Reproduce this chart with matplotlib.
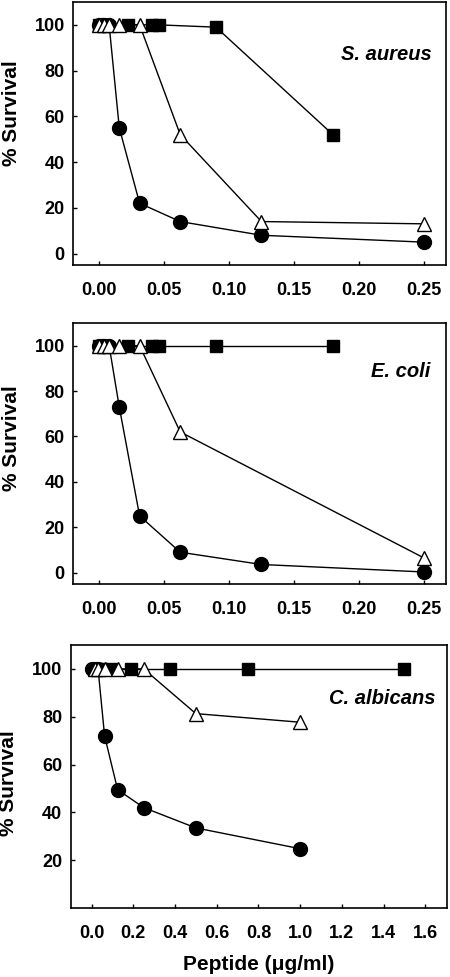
import numpy as np
import matplotlib
matplotlib.use('Agg')
import matplotlib.pyplot as plt

plt.rcParams['font.family'] = ['Liberation Sans', 'DejaVu Sans']
plt.rcParams['font.weight'] = 'bold'

# S. aureus
sa_circle_x = [0.0, 0.00195, 0.0039, 0.0078, 0.0156, 0.03125, 0.0625, 0.125, 0.25]
sa_circle_y = [100, 100, 100, 100, 55, 22, 14, 8, 5]
sa_tri_x = [0.0, 0.0039, 0.0078, 0.0156, 0.03125, 0.0625, 0.125, 0.25]
sa_tri_y = [100, 100, 100, 100, 100, 52, 14, 13]
sa_sq_x = [0.0, 0.0028, 0.0225, 0.041, 0.046, 0.09, 0.18]
sa_sq_y = [100, 100, 100, 100, 100, 99, 52]

# E. coli
ec_circle_x = [0.0, 0.00195, 0.0039, 0.0078, 0.0156, 0.03125, 0.0625, 0.125, 0.25]
ec_circle_y = [100, 100, 100, 100, 73, 25, 9, 3.6, 0.3]
ec_tri_x = [0.0, 0.0039, 0.0078, 0.0156, 0.03125, 0.0625, 0.25]
ec_tri_y = [100, 100, 100, 100, 100, 62, 6.5]
ec_sq_x = [0.0, 0.0028, 0.0225, 0.041, 0.046, 0.09, 0.18]
ec_sq_y = [100, 100, 100, 100, 100, 100, 100]

# C. albicans
ca_circle_x = [0.0, 0.0156, 0.03125, 0.0625, 0.125, 0.25, 0.5, 1.0]
ca_circle_y = [100, 100, 100, 72, 49.5, 42, 33.5, 24.8]
ca_tri_x = [0.0156, 0.03125, 0.0625, 0.125, 0.25, 0.5, 1.0]
ca_tri_y = [100, 100, 100, 100, 100, 81.3, 77.7]
ca_sq_x = [0.0234, 0.047, 0.094, 0.1875, 0.375, 0.75, 1.5]
ca_sq_y = [100, 100, 100, 100, 100, 100, 100]

panels = [
    dict(name='S. aureus', circ=(sa_circle_x, sa_circle_y), tri=(sa_tri_x, sa_tri_y),
         sq=(sa_sq_x, sa_sq_y), rect=[73/450, 1-265/977, 373/450, 263/977],
         xlim=(-0.02, 0.267), ylim=(-5, 110), xticks=np.arange(0, 0.26, 0.05), xfmt='{:.2f}',
         yticks=[0, 20, 40, 60, 80, 100], txt=(0.962, 0.80), ylab_y=0.578),
    dict(name='E. coli', circ=(ec_circle_x, ec_circle_y), tri=(ec_tri_x, ec_tri_y),
         sq=(ec_sq_x, ec_sq_y), rect=[73/450, 1-584/977, 373/450, 261/977],
         xlim=(-0.02, 0.267), ylim=(-5, 110), xticks=np.arange(0, 0.26, 0.05), xfmt='{:.2f}',
         yticks=[0, 20, 40, 60, 80, 100], txt=(0.957, 0.813), ylab_y=0.56),
    dict(name='C. albicans', circ=(ca_circle_x, ca_circle_y), tri=(ca_tri_x, ca_tri_y),
         sq=(ca_sq_x, ca_sq_y), rect=[70.7/450, 1-908/977, 376/450, 263/977],
         xlim=(-0.1, 1.703), ylim=(0, 110), xticks=np.arange(0, 1.61, 0.2), xfmt='{:.1f}',
         yticks=[20, 40, 60, 80, 100], txt=(0.969, 0.797), ylab_y=0.473),
]

fig = plt.figure(figsize=(4.5, 9.77), dpi=100)

for p in panels:
    ax = fig.add_axes(p['rect'])
    lw = 1.0
    ax.plot(*p['circ'], '-o', color='k', lw=lw, ms=10, mfc='k', mec='k', zorder=3)
    ax.plot(*p['sq'], '-s', color='k', lw=lw, ms=9, mfc='k', mec='k', zorder=4)
    ax.plot(*p['tri'], '-^', color='k', lw=lw, ms=10.5, mfc='white', mec='k', mew=1.0, zorder=5)

    ax.set_xlim(p['xlim'])
    ax.set_ylim(p['ylim'])
    ax.set_xticks(p['xticks'])
    ax.set_xticklabels([p['xfmt'].format(v) for v in p['xticks']])
    ax.set_yticks(p['yticks'])
    ax.tick_params(direction='in', length=3, width=1, labelsize=13, pad=6)
    ax.tick_params(axis='x', pad=12)
    for lab in ax.get_xticklabels() + ax.get_yticklabels():
        lab.set_fontweight('bold')
    for s in ax.spines.values():
        s.set_linewidth(1.2)

    ax.text(p['txt'][0], p['txt'][1], p['name'], transform=ax.transAxes,
            ha='right', va='center', fontsize=14.5, fontweight='bold', style='italic')
    ax.set_ylabel('% Survival', fontsize=15, fontweight='bold', va='center')
    ax.yaxis.set_label_coords(-0.166, p['ylab_y'])

ax.set_xlabel('Peptide (\u03bcg/ml)', fontsize=15, fontweight='bold')
ax.xaxis.set_label_coords(0.5, -0.18)

fig.savefig('out.png', dpi=100)
